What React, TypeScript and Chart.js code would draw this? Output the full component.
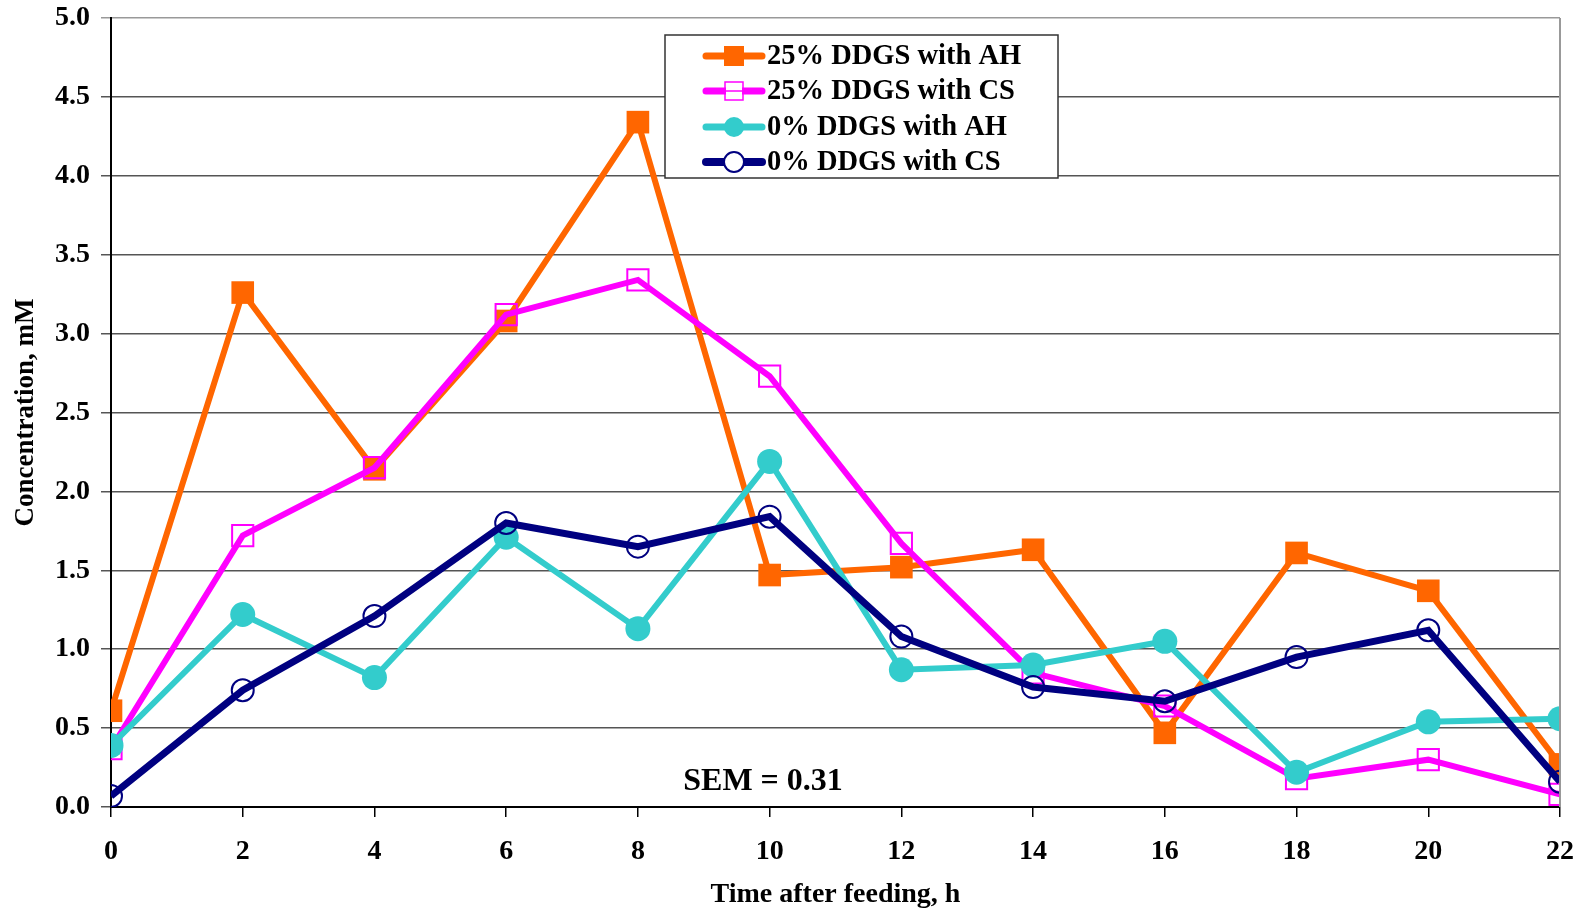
import React, { useEffect, useRef } from "react";
import { Chart, registerables } from "chart.js";

Chart.register(...registerables);

const hours = [0, 2, 4, 6, 8, 10, 12, 14, 16, 18, 20, 22];
const ddgs25AH = [0.61, 3.26, 2.14, 3.08, 4.34, 1.47, 1.52, 1.63, 0.47, 1.61, 1.37, 0.27];
const ddgs25CS = [0.37, 1.72, 2.15, 3.12, 3.34, 2.73, 1.67, 0.85, 0.64, 0.18, 0.3, 0.08];
const ddgs0AH = [0.39, 1.22, 0.82, 1.71, 1.13, 2.19, 0.87, 0.9, 1.05, 0.22, 0.54, 0.56];
const ddgs0CS = [0.07, 0.74, 1.21, 1.8, 1.65, 1.84, 1.08, 0.76, 0.67, 0.95, 1.12, 0.16];
const seriesLabels = ["25% DDGS with AH", "25% DDGS with CS", "0% DDGS with AH", "0% DDGS with CS"];
const semText = "SEM = 0.31";
const xTitle = "Time after feeding, h";
const yTitle = "Concentration, mM";

const FONT = "'Liberation Serif', 'Times New Roman', serif";

const toXY = (vals: number[]) => vals.map((v, i) => ({ x: hours[i], y: v }));

const overlayPlugin = {
  id: "overlay",
  afterDraw(chart: any) {
    const { ctx, chartArea, scales } = chart;
    ctx.save();
    // right border
    ctx.strokeStyle = "#999999";
    ctx.lineWidth = 2;
    ctx.beginPath();
    ctx.moveTo(chartArea.right, chartArea.top);
    ctx.lineTo(chartArea.right, chartArea.bottom);
    ctx.stroke();
    // SEM text
    ctx.fillStyle = "#000";
    ctx.font = `bold 32px ${FONT}`;
    ctx.textAlign = "center";
    ctx.textBaseline = "middle";
    ctx.fillText(semText, scales.x.getPixelForValue(9.9), scales.y.getPixelForValue(0.16));
    // legend
    const bx = 665, by = 35, bw = 393, bh = 143;
    ctx.fillStyle = "#fff";
    ctx.fillRect(bx, by, bw, bh);
    ctx.strokeStyle = "#333";
    ctx.lineWidth = 1.5;
    ctx.strokeRect(bx, by, bw, bh);
    const rows = [56, 91, 127, 162];
    const ds = chart.data.datasets;
    [0, 1, 2, 3].forEach((di, r) => {
      const d = ds[di];
      const y = rows[r];
      ctx.strokeStyle = d.borderColor;
      ctx.lineWidth = d.borderWidth + 1;
      ctx.lineCap = "round";
      ctx.beginPath();
      ctx.moveTo(706, y);
      ctx.lineTo(762, y);
      ctx.stroke();
      ctx.lineCap = "butt";
      const cx = 734;
      if (d.pointStyle === "rect") {
        if (d.pointBackgroundColor !== "rgba(0,0,0,0)") {
          const s = 20;
          ctx.fillStyle = d.pointBackgroundColor;
          ctx.fillRect(cx - s / 2, y - s / 2, s, s);
        } else {
          ctx.fillStyle = "#fff";
          ctx.fillRect(cx - 8, y - 7, 16, 14);
          ctx.strokeStyle = d.pointBorderColor;
          ctx.lineWidth = 1.5;
          ctx.strokeRect(cx - 9, y - 9, 18, 18);
          ctx.beginPath();
          ctx.moveTo(cx - 9, y);
          ctx.lineTo(cx + 9, y);
          ctx.stroke();
        }
      } else {
        ctx.beginPath();
        ctx.arc(cx, y, 10, 0, Math.PI * 2);
        if (d.pointBackgroundColor !== "rgba(0,0,0,0)") {
          ctx.fillStyle = d.pointBackgroundColor;
          ctx.fill();
        } else {
          ctx.fillStyle = "#fff";
          ctx.fill();
          ctx.strokeStyle = d.pointBorderColor;
          ctx.lineWidth = 2;
          ctx.stroke();
        }
      }
      ctx.fillStyle = "#000";
      ctx.font = `bold 28.5px ${FONT}`;
      ctx.textAlign = "left";
      ctx.textBaseline = "middle";
      ctx.fillText(d.label, 767, y + 1);
    });
    ctx.restore();
  },
};

export default function App() {
  const ref = useRef<HTMLCanvasElement>(null);
  useEffect(() => {
    document.body.style.margin = "0";
    const canvas = ref.current!;
    const chart = new Chart(canvas, {
      type: "line",
      data: {
        datasets: [
          {
            label: seriesLabels[0],
            data: toXY(ddgs25AH),
            borderColor: "#FF6600",
            backgroundColor: "#FF6600",
            borderWidth: 6,
            pointStyle: "rect",
            pointRadius: 16,
            pointBackgroundColor: "#FF6600",
            pointBorderColor: "#FF6600",
            pointBorderWidth: 0,
            order: 3,
          },
          {
            label: seriesLabels[1],
            data: toXY(ddgs25CS),
            borderColor: "#FF00FF",
            backgroundColor: "#FF00FF",
            borderWidth: 6,
            pointStyle: "rect",
            pointRadius: 15,
            pointBackgroundColor: "rgba(0,0,0,0)",
            pointBorderColor: "#FF00FF",
            pointBorderWidth: 2,
            order: 2,
          },
          {
            label: seriesLabels[2],
            data: toXY(ddgs0AH),
            borderColor: "#33CCCC",
            backgroundColor: "#33CCCC",
            borderWidth: 6,
            pointStyle: "circle",
            pointRadius: 12.5,
            pointBackgroundColor: "#33CCCC",
            pointBorderColor: "#33CCCC",
            pointBorderWidth: 0,
            order: 1,
          },
          {
            label: seriesLabels[3],
            data: toXY(ddgs0CS),
            borderColor: "#000080",
            backgroundColor: "#000080",
            borderWidth: 7,
            pointStyle: "circle",
            pointRadius: 11,
            pointBackgroundColor: "rgba(0,0,0,0)",
            pointBorderColor: "#000080",
            pointBorderWidth: 2,
            order: 0,
          },
        ],
      },
      options: {
        animation: false,
        responsive: false,
        maintainAspectRatio: false,
        layout: { padding: { top: 18, right: 20, left: 0, bottom: 0 } },
        plugins: {
          legend: { display: false },
          tooltip: { enabled: false },
        },
        elements: { line: { tension: 0 } },
        scales: {
          x: {
            type: "linear",
            min: 0,
            max: 22,
            afterFit: (s: any) => {
              s.height = 105;
              s.paddingLeft = 0;
              s.paddingRight = 0;
            },
            ticks: {
              stepSize: 2,
              color: "#000",
              padding: 18,
              maxRotation: 0,
              font: { family: FONT, size: 28, weight: "bold" },
            },
            grid: { drawOnChartArea: false, tickLength: 10, color: "#000", lineWidth: 1.5 },
            border: { color: "#000", width: 2 },
            title: {
              display: true,
              text: xTitle,
              color: "#000",
              font: { family: FONT, size: 28, weight: "bold" },
              padding: { top: 6, bottom: 0 },
            },
          },
          y: {
            min: 0,
            max: 5,
            afterFit: (s: any) => {
              s.width = 111;
              s.paddingTop = 0;
              s.paddingBottom = 0;
            },
            ticks: {
              stepSize: 0.5,
              color: "#000",
              padding: 11,
              font: { family: FONT, size: 28, weight: "bold" },
              callback: (v: any) => Number(v).toFixed(1),
            },
            grid: {
              tickLength: 10,
              color: (c: any) => (c.tick && c.tick.value === 5 ? "#999999" : "#555555"),
              lineWidth: 1.5,
            },
            border: { color: "#000", width: 2 },
            title: {
              display: true,
              text: yTitle,
              color: "#000",
              font: { family: FONT, size: 27, weight: "bold" },
              padding: { top: 10, bottom: 4 },
            },
          },
        },
      },
      plugins: [overlayPlugin],
    } as any);
    return () => chart.destroy();
  }, []);
  return (
    <div style={{ position: "absolute", left: 0, top: 0, width: 1580, height: 912 }}>
      <canvas ref={ref} width={1580} height={912} style={{ display: "block" }} />
    </div>
  );
}
